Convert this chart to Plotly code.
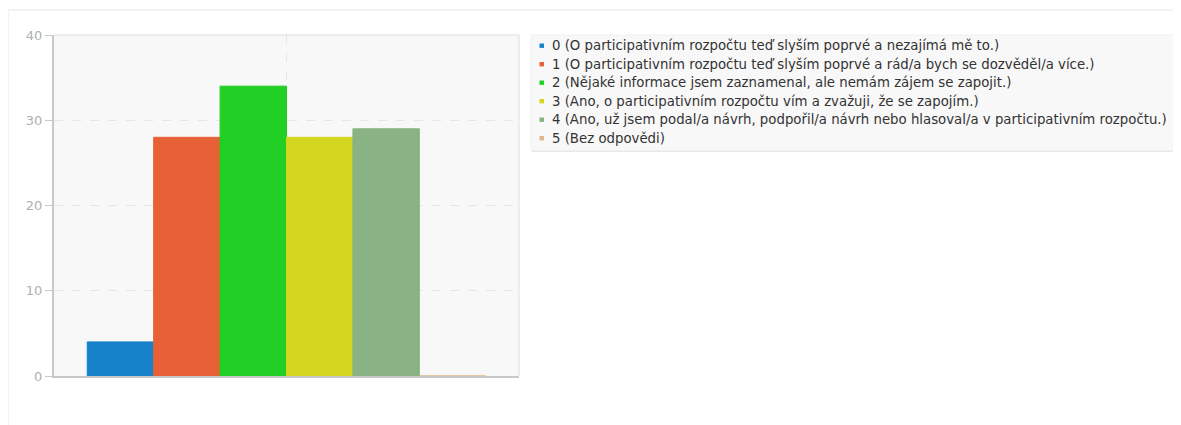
import plotly.graph_objects as go

categories = [
    "0 (O participativním rozpočtu teď slyším poprvé a nezajímá mě to.)",
    "1 (O participativním rozpočtu teď slyším poprvé a rád/a bych se dozvěděl/a více.)",
    "2 (Nějaké informace jsem zaznamenal, ale nemám zájem se zapojit.)",
    "3 (Ano, o participativním rozpočtu vím a zvažuji, že se zapojím.)",
    "4 (Ano, už jsem podal/a návrh, podpořil/a návrh nebo hlasoval/a v participativním rozpočtu.)",
    "5 (Bez odpovědi)",
]
values = [4, 28, 34, 28, 29, 0]
colors = ["#1582C9", "#E86035", "#21CF25", "#D3D51E", "#8AB383", "#DDB88C"]
y_ticks = [0, 10, 20, 30, 40]

OFF = 8  # page body margin
W, H = 1181 - OFF, 425 - OFF
# plot area in page px
PL, PR, PT, PB = 54, 519, 35, 376
L, R, T, B = PL - OFF, PR - OFF, PT - OFF, PB - OFF


def px_x(px):
    return (px - PL) / (PR - PL)


def px_y(py):
    return (PB - py) / (PB - PT)


fig = go.Figure()
for cat, val, col in zip(categories, values, colors):
    fig.add_trace(go.Bar(
        x=["q"], y=[val], name=cat,
        marker=dict(color=col, line=dict(color=col, width=1)),
        showlegend=False,
    ))

shapes = []
annotations = []
# outer card
shapes.append(dict(type="rect", xref="paper", yref="paper",
                   x0=px_x(8), x1=px_x(1195), y0=px_y(10), y1=px_y(440),
                   line=dict(color="#e8e8e8", width=1), fillcolor="rgba(0,0,0,0)", layer="below"))
# legend box shadow + box
shapes.append(dict(type="rect", xref="paper", yref="paper",
                   x0=px_x(532), x1=px_x(1181), y0=px_y(36), y1=px_y(152),
                   line=dict(width=0), fillcolor="#e9e9e9", layer="above"))
shapes.append(dict(type="rect", xref="paper", yref="paper",
                   x0=px_x(531), x1=px_x(1179.5), y0=px_y(35), y1=px_y(150.5),
                   line=dict(color="#f0f0f0", width=1), fillcolor="#f8f8f8", layer="above"))
row_y0, row_dy = 45.7, 18.5
for i, (cat, col) in enumerate(zip(categories, colors)):
    cy = row_y0 + i * row_dy
    shapes.append(dict(type="rect", xref="paper", yref="paper",
                       x0=px_x(539.5), x1=px_x(544), y0=px_y(cy - 2.2), y1=px_y(cy + 2.2),
                       line=dict(width=0), fillcolor=col, layer="above"))
    annotations.append(dict(xref="paper", yref="paper", x=px_x(550), y=px_y(cy),
                            xanchor="left", yanchor="middle", showarrow=False,
                            text=cat, align="left",
                            font=dict(family="DejaVu Sans", size=13.3, color="#333333")))
# plot frame top/right
shapes.append(dict(type="line", xref="paper", yref="paper", x0=0, x1=1, y0=1, y1=1,
                   line=dict(color="#dddddd", width=1)))
shapes.append(dict(type="line", xref="paper", yref="paper", x0=1, x1=1, y0=0, y1=1,
                   line=dict(color="#dddddd", width=1)))

fig.update_layout(
    width=W, height=H,
    margin=dict(l=L, r=W - R, t=T, b=H - B, pad=0),
    paper_bgcolor="white",
    plot_bgcolor="#f8f8f8",
    barmode="group", bargap=0.143, bargroupgap=0,
    font=dict(family="DejaVu Sans", size=13, color="#333"),
    shapes=shapes, annotations=annotations,
    showlegend=False,
)
fig.update_xaxes(range=[-0.5, 0.5], showticklabels=False, ticks="",
                 showgrid=True, gridcolor="#e6e6e6", griddash="dash", gridwidth=1,
                 showline=True, linecolor="#c8c8c8", linewidth=2, zeroline=False)
fig.update_yaxes(range=[0, 40], tickvals=y_ticks, ticks="outside", ticklen=7,
                 tickcolor="#c8c8c8", tickfont=dict(color="#b0b0b0", size=13, family="DejaVu Sans"),
                 showgrid=True, gridcolor="#e6e6e6", griddash="dash", gridwidth=1,
                 showline=True, linecolor="#c8c8c8", linewidth=2, zeroline=False)

fig.write_html("out.html")
